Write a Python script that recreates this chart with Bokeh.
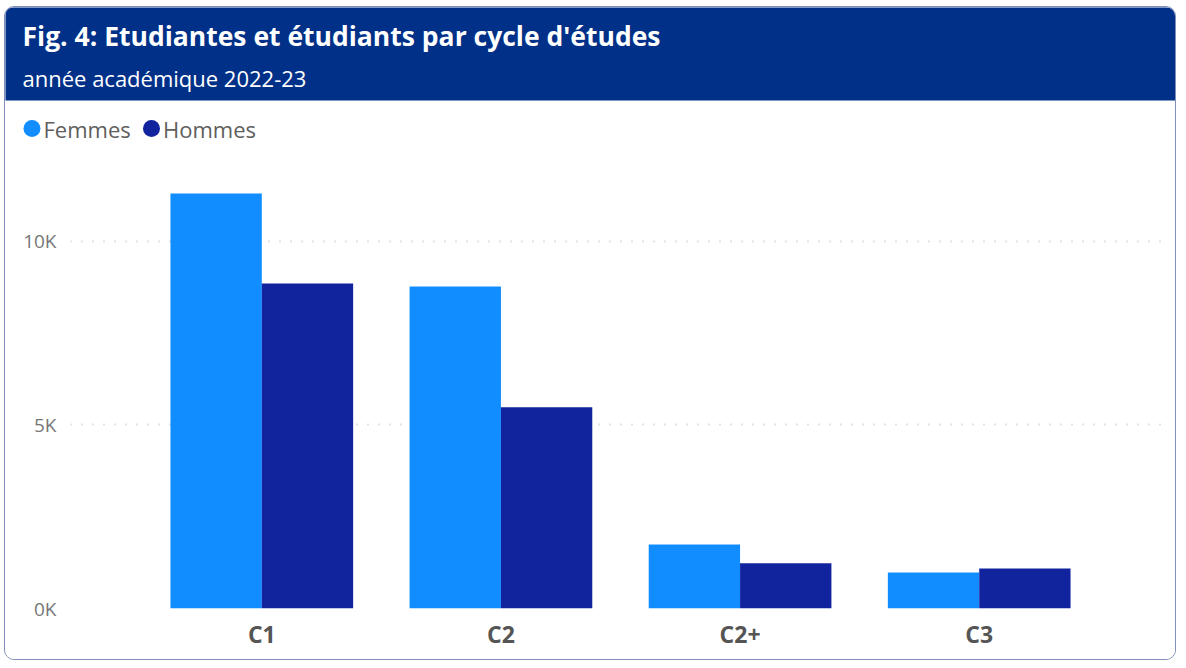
from bokeh.plotting import figure
from bokeh.layouts import column
from bokeh.models import FactorRange, Range1d, FixedTicker, ColumnDataSource
from bokeh.core.properties import value
from bokeh.transform import dodge
from bokeh.embed import file_html
from bokeh.resources import INLINE

# ---- data ----
categories = ["C1", "C2", "C2+", "C3"]
femmes = [11300, 8770, 1740, 980]
hommes = [8850, 5480, 1230, 1090]
series_names = ["Femmes", "Hommes"]
series_colors = ["#118DFF", "#12239E"]
y_ticks = [0, 5000, 10000]
y_tick_labels = ["0K", "5K", "10K"]
title_text = "Fig. 4: Etudiantes et étudiants par cycle d'études"
subtitle_text = "année académique 2022-23"

W = 1170
FONT = "Open Sans"
HEADER_BLUE = "#003087"

# ---------------- header + legend figure ----------------
HH = 153
h = figure(x_range=Range1d(0, W), y_range=Range1d(HH, 0), width=W, height=HH,
           output_backend="svg", toolbar_location=None,
           min_border_left=0, min_border_right=0, min_border_top=0, min_border_bottom=0)
h.frame_align = False
h.axis.visible = False
h.grid.visible = False
h.outline_line_color = None
h.background_fill_color = "white"
h.border_fill_color = "white"

h.quad(left=[-20], right=[W + 20], top=[-20], bottom=[93], fill_color=HEADER_BLUE, line_color=None)
h.text(x=[17], y=[28], text=[title_text], text_font=value(FONT), text_font_size="26.5px",
       text_font_style="bold", text_color="white", text_baseline="middle", text_align="left")
h.text(x=[17], y=[70], text=[subtitle_text], text_font=value(FONT), text_font_size="22px",
       text_color="white", text_baseline="middle", text_align="left")

# legend drawn from series names/colours
legend_x = [26.5, 146]
h.scatter(x=legend_x, y=[121, 121], size=17, marker="circle", fill_color=series_colors,
          line_color=None)
h.text(x=[x + 11.5 for x in legend_x], y=[121, 121], text=series_names, text_font=value(FONT),
       text_font_size="22px", text_color="#605E5C", text_baseline="middle", text_align="left")

# ---------------- chart figure ----------------
src = ColumnDataSource(dict(cat=categories, Femmes=femmes, Hommes=hommes))
x_range = FactorRange(factors=categories, range_padding=0.3, range_padding_units="absolute")
p = figure(x_range=x_range, y_range=Range1d(0, 12200), width=W, height=499,
           output_backend="svg", toolbar_location=None,
           min_border_left=65, min_border_right=5, min_border_bottom=51, min_border_top=0)
p.frame_align = False
p.title.visible = False

bar_w = 0.382
offsets = [-bar_w / 2, bar_w / 2]
for name, color, off in zip(series_names, series_colors, offsets):
    p.vbar(x=dodge("cat", off, range=x_range), top=name, width=bar_w, source=src,
           fill_color=color, line_color=None)

p.yaxis.ticker = FixedTicker(ticks=y_ticks)
p.yaxis.major_label_overrides = {t: l for t, l in zip(y_ticks, y_tick_labels)}
p.yaxis.axis_line_color = None
p.yaxis.major_tick_line_color = None
p.yaxis.minor_tick_line_color = None
p.yaxis.major_label_text_font = FONT
p.yaxis.major_label_text_font_size = "19px"
p.yaxis.major_label_text_color = "#777777"
p.yaxis.major_label_standoff = 8

p.xaxis.axis_line_color = None
p.xaxis.major_tick_line_color = None
p.xaxis.minor_tick_line_color = None
p.xaxis.major_label_text_font = FONT
p.xaxis.major_label_text_font_size = "23px"
p.xaxis.major_label_text_font_style = "bold"
p.xaxis.major_label_text_color = "#555555"
p.xaxis.major_label_standoff = 3

p.xgrid.visible = False
p.ygrid.grid_line_color = "#C8C8C8"
p.ygrid.grid_line_dash = "1 10"
p.ygrid.grid_line_width = 2
p.outline_line_color = None
p.background_fill_color = "white"
p.border_fill_color = "white"

layout = column(h, p, spacing=0,
                styles={"border": "1px solid #7F8FB8", "border-radius": "10px",
                        "overflow": "hidden", "margin-left": "4px", "margin-top": "6px"})

open("out.html", "w").write(file_html(layout, INLINE))
